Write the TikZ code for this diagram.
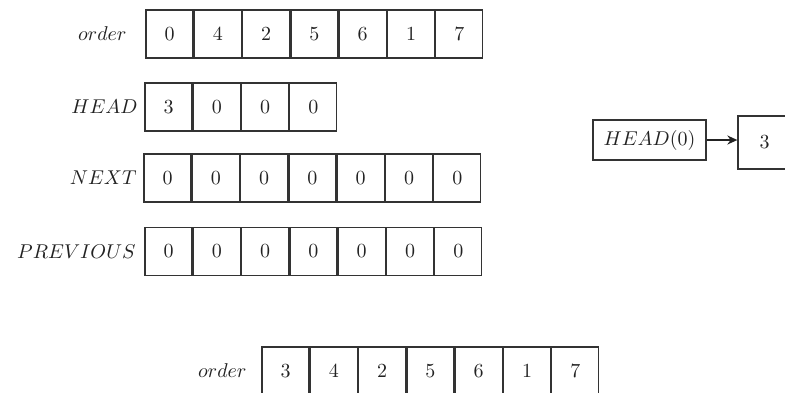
\documentclass[tikz,border=0pt]{standalone}
\usetikzlibrary{arrows.meta}
\definecolor{ink}{HTML}{222222}
\definecolor{edge}{HTML}{333333}
\begin{document}
\begin{tikzpicture}[x=0.5pt,y=-0.5pt,
  cell/.style={draw=edge,line width=0.65pt,minimum width=23.5pt,minimum height=24pt,inner sep=0pt,text=ink},
  lbl/.style={anchor=east,inner sep=0pt,text=ink},
  arrowline/.style={draw=ink,line width=1pt,-{Stealth[length=5pt,width=4.5pt]}}]
\useasboundingbox (0,0) rectangle (785,392);
\clip (0,0) rectangle (785,392);
% row 1: order
\node[lbl] (lorder) at (127,34) {$order$};
\foreach \v [count=\i] in {0,4,2,5,6,1,7}
  \node[cell] (o\i) at ({169.5+(\i-1)*48.3},34) {\v};
% row 2: HEAD
\node[lbl] (lhead) at (138,107) {$HEAD$};
\foreach \v [count=\i] in {3,0,0,0}
  \node[cell] (h\i) at ({168.5+(\i-1)*48.25},107) {\v};
% row 3: NEXT
\node[lbl] (lnext) at (137,178) {$NEXT$};
\foreach \v [count=\i] in {0,0,0,0,0,0,0}
  \node[cell] (n\i) at ({167.5+(\i-1)*48.3},178) {\v};
% row 4: PREVIOUS
\node[lbl] (lprev) at (136,251.5) {$PREVIOUS$};
\foreach \v [count=\i] in {0,0,0,0,0,0,0}
  \node[cell] (p\i) at ({168.5+(\i-1)*48.3},251.5) {\v};
% bottom: order
\node[lbl] (lorder2) at (247,371) {$order$};
\foreach \v [count=\i] in {3,4,2,5,6,1,7}
  \node[cell] (b\i) at ({285.5+(\i-1)*48.3},371) {\v};
% HEAD(0) -> 3
\node[cell,minimum width=56.5pt,minimum height=20pt] (hz) at (649.5,140) {$HEAD(0)$};
\node[cell,minimum width=26.5pt,minimum height=26.5pt] (three) at (764.5,142.5) {3};
\draw[arrowline] (hz.east) -- (hz.east -| three.west);
\end{tikzpicture}
\end{document}
